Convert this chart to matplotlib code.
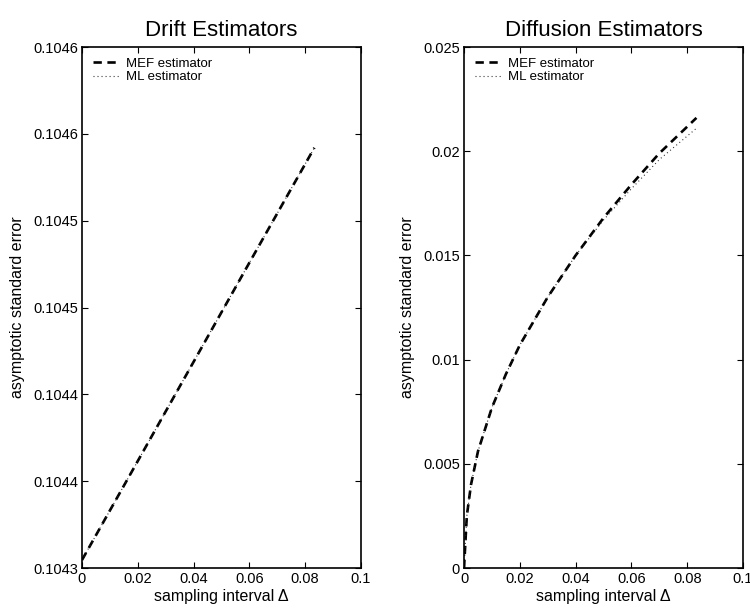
import numpy as np
import matplotlib

matplotlib.use("Agg")
import matplotlib.pyplot as plt

plt.rcParams["font.family"] = ["Liberation Sans", "DejaVu Sans"]
plt.rcParams["lines.scale_dashes"] = False

# --- drift estimators (MEF and ML coincide) ---
drift_dt = [0.0, 0.02, 0.04, 0.06, 0.0833]
drift_mef = [0.1043046, 0.1043616, 0.1044187, 0.1044758, 0.1045420]
drift_ml = [0.1043046, 0.1043616, 0.1044187, 0.1044758, 0.1045420]
drift_yticks = [0.10430, 0.10435, 0.10440, 0.10445, 0.10450, 0.10455, 0.10460]
drift_ylabels = ["0.1043", "0.1044", "0.1044", "0.1045", "0.1045", "0.1046", "0.1046"]

# --- diffusion estimators ---
diff_dt = [0.0, 0.001, 0.0025, 0.005, 0.01, 0.015, 0.02, 0.03, 0.04, 0.05, 0.06, 0.07, 0.0833]
diff_mef = [0.0, 0.0025, 0.0040, 0.0056, 0.0077, 0.0093, 0.0107, 0.0130, 0.0150, 0.0168, 0.0184, 0.0199, 0.0216]
diff_ml = [0.0, 0.0025, 0.0040, 0.0056, 0.0077, 0.0093, 0.0107, 0.0130, 0.0150, 0.0167, 0.0182, 0.0196, 0.0211]
diff_yticks = [0, 0.005, 0.01, 0.015, 0.02, 0.025]
diff_ylabels = ["0", "0.005", "0.01", "0.015", "0.02", "0.025"]

xticks = [0, 0.02, 0.04, 0.06, 0.08, 0.1]
xlabels = ["0", "0.02", "0.04", "0.06", "0.08", "0.1"]

fig = plt.figure(figsize=(7.5, 6.09), dpi=100)
ax1 = fig.add_axes([0.1093, 0.0673, 0.372, 0.8555])
ax2 = fig.add_axes([0.6187, 0.0673, 0.372, 0.8555])

panels = [
    (ax1, "Drift Estimators", drift_dt, drift_mef, drift_ml, drift_yticks, drift_ylabels),
    (ax2, "Diffusion Estimators", diff_dt, diff_mef, diff_ml, diff_yticks, diff_ylabels),
]

for ax, title, dt, mef, ml, yt, yl in panels:
    ax.plot(dt, mef, color="black", lw=1.9, dashes=(6, 4), label="MEF estimator")
    ax.plot(dt, ml, color="#222222", lw=0.8, dashes=(0.7, 2.2), label="ML estimator")
    ax.set_xlim(0, 0.1)
    ax.set_ylim(yt[0], yt[-1])
    ax.set_xticks(xticks)
    ax.set_xticklabels(xlabels)
    ax.set_yticks(yt)
    ax.set_yticklabels(yl)
    ax.tick_params(direction="in", top=True, right=True, length=4, width=0.8,
                   labelsize=10.5, pad=3)
    for s in ax.spines.values():
        s.set_linewidth(1.2)
    ax.set_title(title, fontsize=16, pad=8)
    ax.set_xlabel("sampling interval \u0394", fontsize=11.5, labelpad=2)
    ax.set_ylabel("asymptotic standard error", fontsize=11.5, labelpad=6)
    ax.legend(loc="upper left", frameon=False, fontsize=9.5, handlelength=2.0,
              handletextpad=0.5, labelspacing=0.1, borderaxespad=0.4)

fig.savefig("out.png", dpi=100)
